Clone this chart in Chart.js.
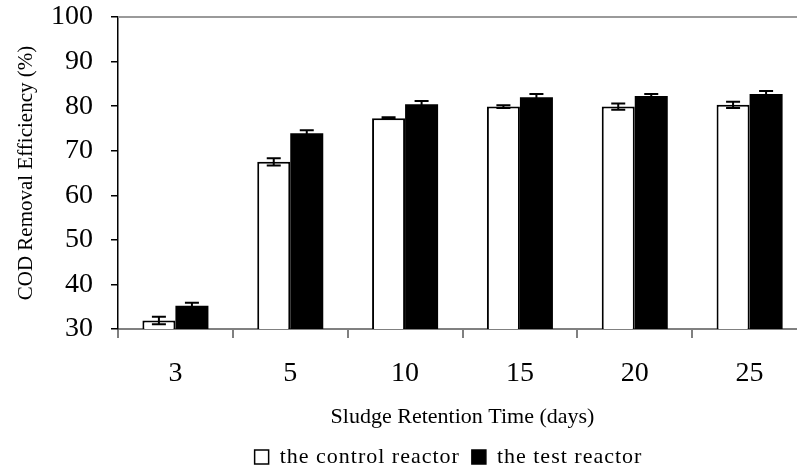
<!DOCTYPE html>
<html>
<head>
<meta charset="utf-8">
<script src="https://cdn.jsdelivr.net/npm/chart.js@4"></script>
<style>
  html, body { margin: 0; padding: 0; background: #fff; overflow: hidden; }
  #wrap { width: 810px; height: 468px; }
</style>
</head>
<body>
<div id="wrap"><canvas id="c" width="810" height="468"></canvas></div>
<script>
// Sludge retention time (days) and COD removal efficiency (%) per reactor
const srtDays = ['3', '5', '10', '15', '20', '25'];
const controlReactor = [31.9, 67.5, 77.3, 79.9, 79.9, 80.3];
const testReactor = [35.2, 73.9, 80.4, 82.0, 82.3, 82.7];
const controlErr = [0.85, 0.8, 0.2, 0.3, 0.7, 0.7];
const testErr = [0.7, 0.7, 0.75, 0.7, 0.4, 0.7];
const yTicks = [30, 40, 50, 60, 70, 80, 90, 100];

const FONT = "'Liberation Serif', 'Times New Roman', serif";

// Error bars with caps, plus the grey frame line along the top of the plot
const errorBars = {
  id: 'errorBars',
  afterDatasetsDraw(chart) {
    const ctx = chart.ctx;
    const y = chart.scales.y;
    const errs = [controlErr, testErr];
    ctx.save();
    ctx.strokeStyle = '#000';
    ctx.lineWidth = 2;
    chart.data.datasets.forEach((ds, di) => {
      const meta = chart.getDatasetMeta(di);
      meta.data.forEach((bar, i) => {
        const v = ds.data[i], e = errs[di][i];
        const yTop = y.getPixelForValue(v + e);
        const yBot = y.getPixelForValue(v - e);
        const x = bar.x, half = 7;
        ctx.beginPath();
        ctx.moveTo(x, yTop); ctx.lineTo(x, yBot);
        ctx.moveTo(x - half, yTop); ctx.lineTo(x + half, yTop);
        ctx.moveTo(x - half, yBot); ctx.lineTo(x + half, yBot);
        ctx.stroke();
      });
    });
    const a = chart.chartArea;
    ctx.strokeStyle = '#9a9a9a';
    ctx.lineWidth = 2;
    ctx.beginPath();
    ctx.moveTo(a.left, a.top); ctx.lineTo(chart.width, a.top);
    ctx.stroke();
    ctx.restore();
  }
};

// Slightly tracked legend text, and the legend shifted right under the plot
const legendTweaks = {
  id: 'legendTweaks',
  afterInit(chart) {
    const lg = chart.legend;
    if (!lg) return;
    const wrap = fn => function () {
      const ctx = chart.ctx;
      const prev = ctx.letterSpacing;
      ctx.letterSpacing = '1px';
      const r = fn.apply(this, arguments);
      ctx.letterSpacing = prev || '0px';
      return r;
    };
    lg.fit = wrap(lg.fit);
    lg.draw = wrap(lg.draw);
  },
  afterLayout(chart) {
    const lg = chart.legend;
    if (!lg) return;
    lg.left += 45;
    lg.right += 45;
  }
};

new Chart(document.getElementById('c'), {
  type: 'bar',
  data: {
    labels: srtDays,
    datasets: [
      { label: 'the control reactor', data: controlReactor, backgroundColor: '#fff', borderColor: '#000', borderWidth: 2 },
      { label: 'the test reactor', data: testReactor, backgroundColor: '#000', borderColor: '#000', borderWidth: 0 }
    ]
  },
  options: {
    responsive: false,
    animation: false,
    devicePixelRatio: 1,
    layout: { padding: { top: 17, right: 3, left: 0, bottom: -10 } },
    datasets: { bar: { categoryPercentage: 0.575, barPercentage: 1.0 } },
    plugins: {
      tooltip: { enabled: false },
      legend: {
        position: 'bottom',
        labels: {
          color: '#000',
          font: { family: FONT, size: 22 },
          boxWidth: 14, boxHeight: 14,
          padding: 12,
          generateLabels(chart) {
            return chart.data.datasets.map((ds, i) => ({
              text: ds.label,
              fillStyle: ds.backgroundColor,
              strokeStyle: '#000',
              lineWidth: 1.5,
              datasetIndex: i,
              fontColor: '#000'
            }));
          }
        }
      }
    },
    scales: {
      x: {
        grid: { drawOnChartArea: false, drawTicks: true, tickLength: 9, color: '#808080', lineWidth: 2, offset: true },
        border: { color: '#808080', width: 2 },
        ticks: { color: '#000', font: { family: FONT, size: 28 }, padding: 19 },
        title: { display: true, text: 'Sludge Retention Time (days)', color: '#000', font: { family: FONT, size: 22 }, padding: { top: 10, bottom: 4 } },
        afterFit(s) {
          const lh = s.chart.legend ? s.chart.legend.height : 0;
          s.height = s.chart.height - 329 - lh + 10;
          s.paddingLeft = 0;
          s.paddingRight = 0;
        }
      },
      y: {
        min: 30, max: 100,
        afterBuildTicks(s) { s.ticks = yTicks.map(v => ({ value: v })); },
        grid: { drawOnChartArea: false, drawTicks: true, tickLength: 7, color: '#000', lineWidth: 1.5 },
        border: { color: '#000', width: 1.5 },
        ticks: { color: '#000', font: { family: FONT, size: 28 }, padding: 18 },
        title: { display: true, text: 'COD Removal Efficiency (%)', color: '#000', font: { family: FONT, size: 21 }, padding: { top: 14, bottom: 4 } },
        afterFit(s) {
          s.width = 118;
          s.paddingTop = 0;
          s.paddingBottom = 0;
        }
      }
    }
  },
  plugins: [errorBars, legendTweaks]
});
</script>
</body>
</html>
